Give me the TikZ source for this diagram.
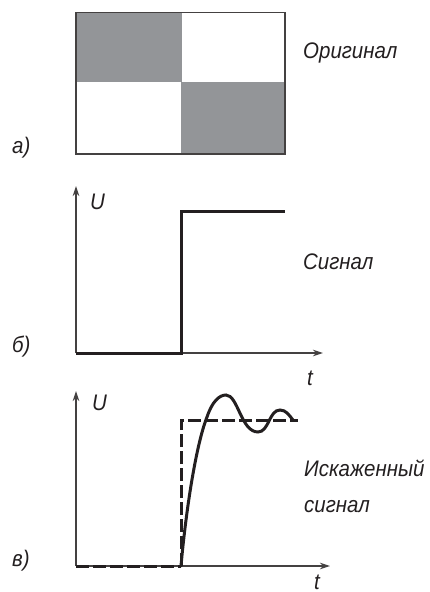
\documentclass[tikz,border=0pt]{standalone}
\usepackage{fontspec}
\setmainfont{Liberation Sans}[FakeStretch=0.91,ItalicFont={Liberation Sans Italic}]
\usetikzlibrary{arrows.meta}
\definecolor{cellgray}{HTML}{939598}
\definecolor{inkc}{HTML}{231F20}
\tikzset{
  x=1pt,y=-1pt,
  lbl/.style={font=\fontsize{22.5}{27}\selectfont\itshape,text=inkc,inner sep=0pt,anchor=base west,align=left},
  axisline/.style={draw=inkc!85,line width=1.1pt,-{Stealth[length=10pt,width=6.5pt]}},
  sig/.style={draw=inkc,line width=3pt,line join=miter},
  sigdash/.style={draw=inkc,line width=3pt,dash pattern=on 13pt off 4pt},
  cell/.style={fill=cellgray,draw=none},
  frame/.style={draw=inkc!85,line width=1.1pt}
}
\begin{document}
\begin{tikzpicture}
\useasboundingbox (0,0) rectangle (429,592);
% panel a
\fill[cell] (76,12.5) rectangle (181.5,82);
\fill[cell] (181,82) rectangle (285,154);
\draw[frame] (76,12.5) rectangle (285,154);
\node[lbl] (orig) at (303,58) {Оригинал};
\node[lbl] (la) at (12,153) {а)};
% panel b
\coordinate (o1) at (76,353);
\coordinate (y1) at (76,186);
\coordinate (x1) at (323,353);
\draw[axisline] (o1) -- (y1);
\draw[axisline] (o1) -- (x1);
\draw[sig] (o1) -- (181,353) -- (181,211) -- (285,211);
\node[lbl] (u1) at (90,209) {U};
\node[lbl] (t1) at (307,385) {t};
\node[lbl] (sig) at (303,269) {Сигнал};
\node[lbl] (lb) at (12,352) {б)};
% panel c
\coordinate (o2) at (76,566);
\coordinate (y2) at (76,391);
\coordinate (x2) at (330,566);
\draw[axisline] (o2) -- (y2);
\draw[axisline] (o2) -- (x2);
\draw[sigdash] (o2) -- (181,566);
\draw[sigdash] (181,566) -- (181,420) -- (298,420);
\draw[draw=inkc,line width=3pt,line cap=round]
  (181,566) .. controls (186,510) and (196,445) .. (207,417)
  .. controls (212,402) and (219,395) .. (226,395)
  .. controls (238,395) and (241,432) .. (258,432)
  .. controls (269,432) and (269,410) .. (280,410)
  .. controls (286,410) and (289,415) .. (293,420);
\node[lbl] (u2) at (92,410) {U};
\node[lbl] (t2) at (314,589) {t};
\node[lbl] (dist) at (304,476) {Искаженный};
\node[lbl] (dist2) at (304,512) {сигнал};
\node[lbl] (lc) at (12,566) {в)};
\end{tikzpicture}
\end{document}
